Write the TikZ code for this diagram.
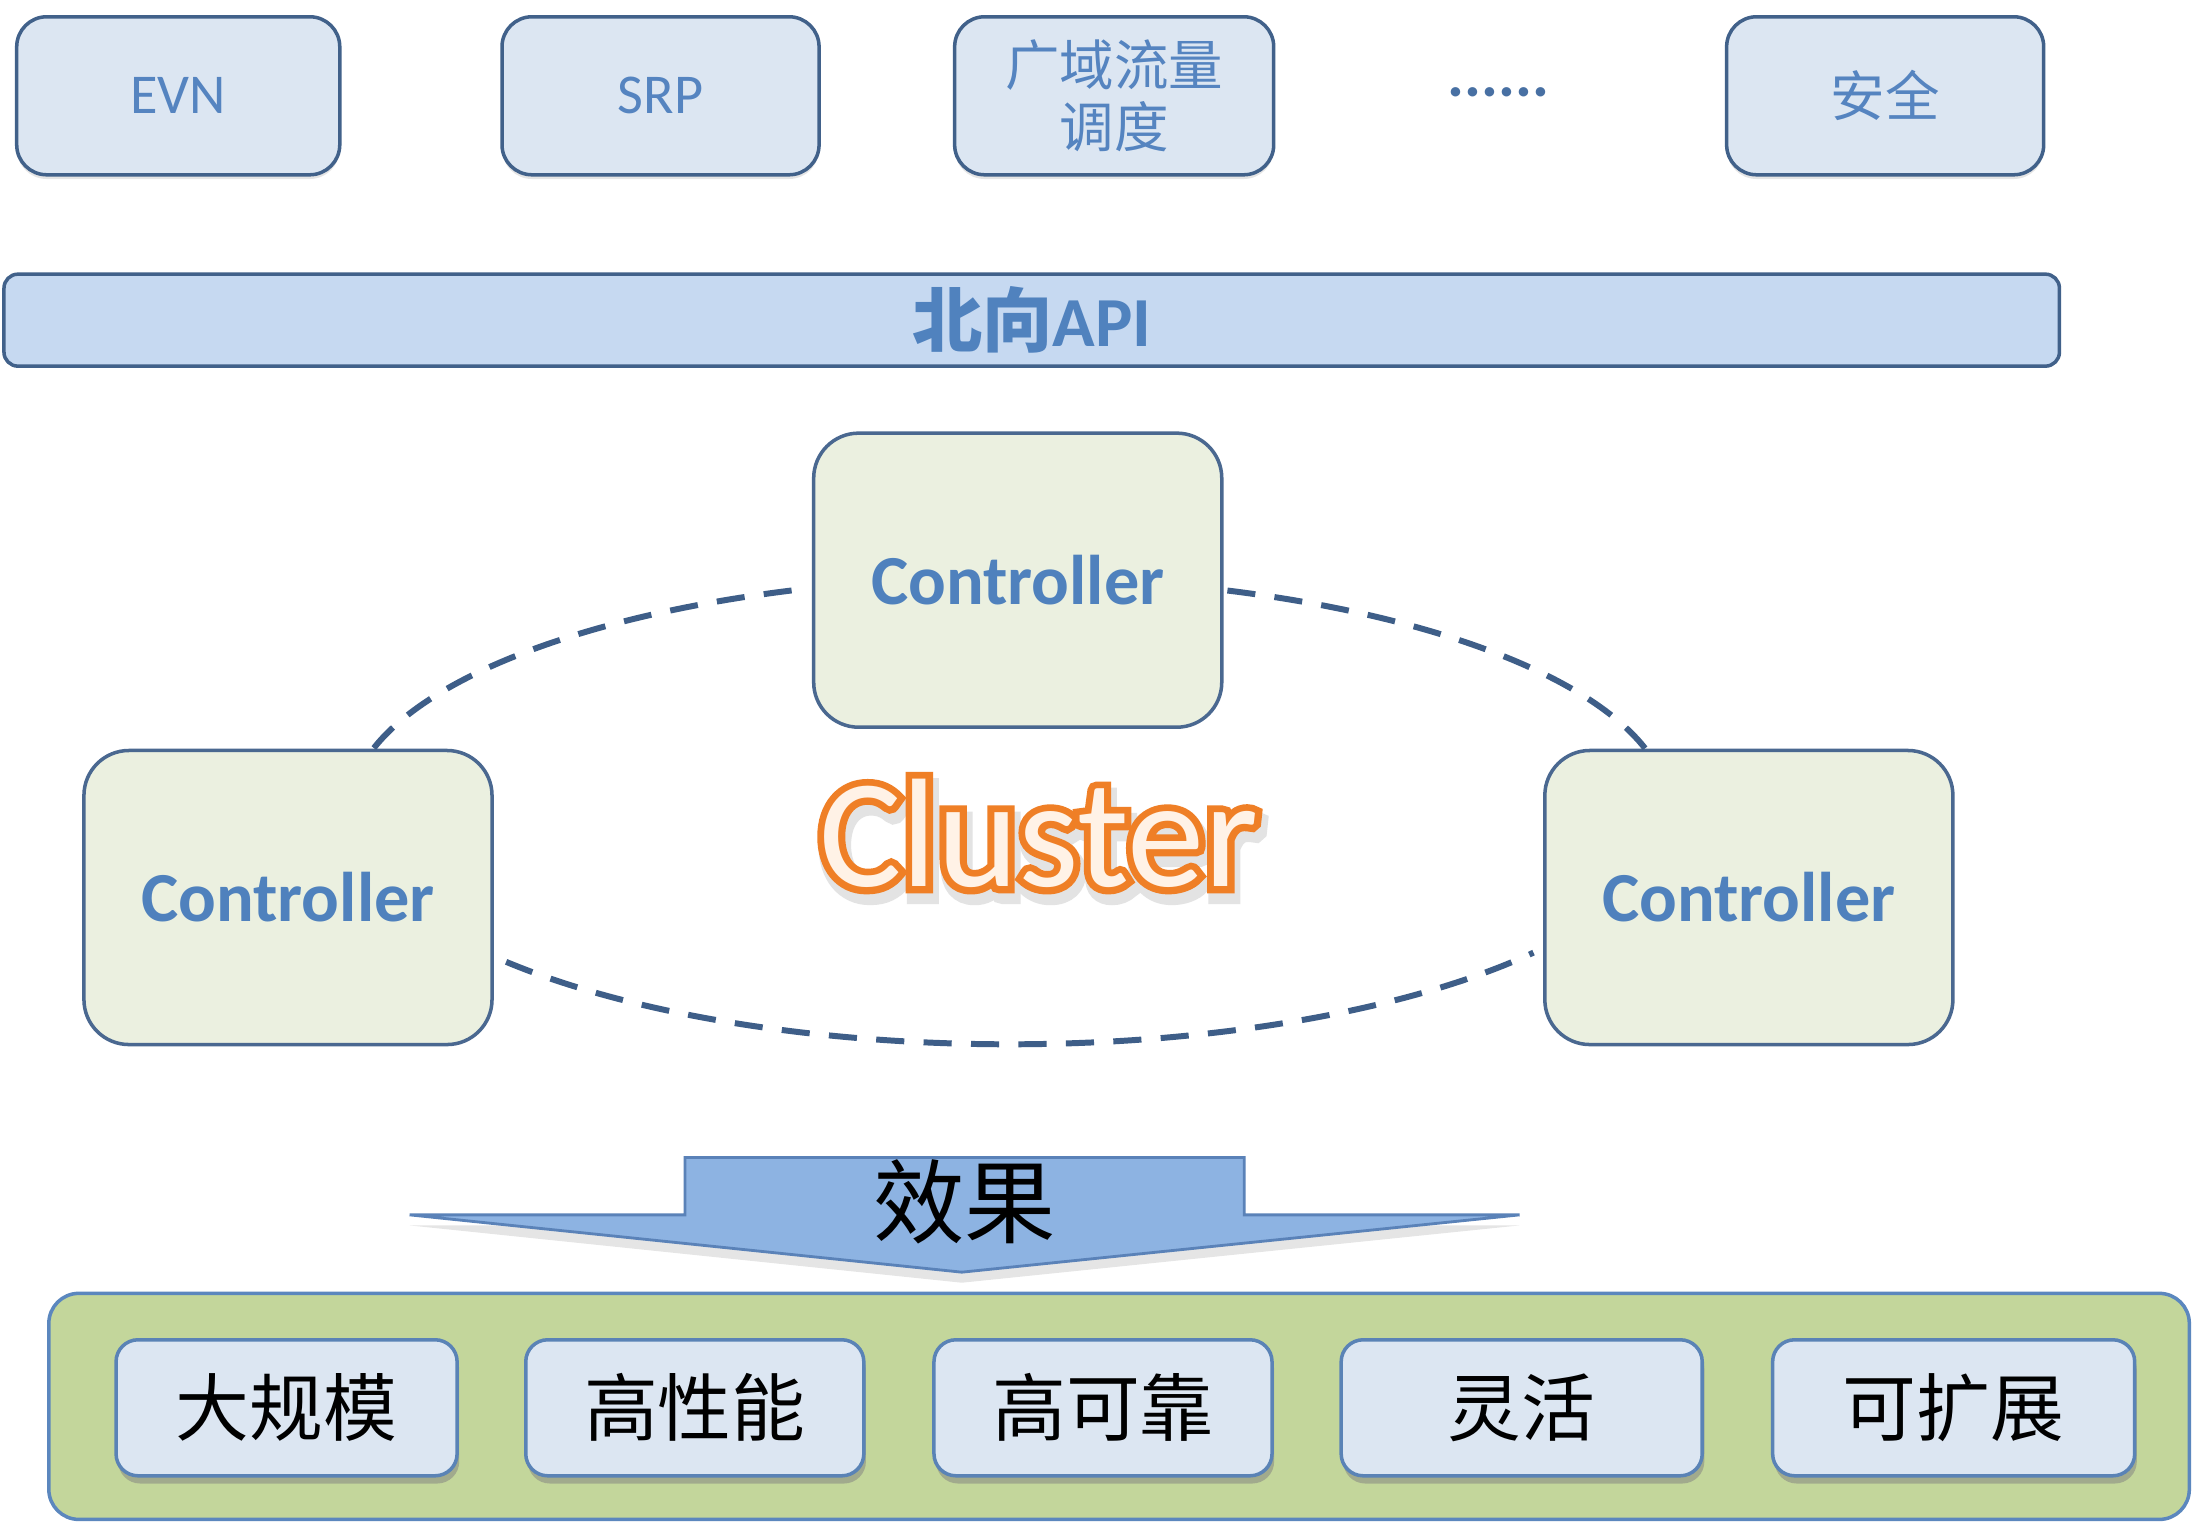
\documentclass[tikz,border=0pt]{standalone}
\usepackage{fontspec}
\setmainfont{Carlito}
\newfontfamily\cjk{Noto Sans CJK SC}
\newfontfamily\ringfont{Carlito}[FakeBold=9]
\newfontfamily\halofont{Carlito}[FakeBold=12]
\usetikzlibrary{shadows}

\definecolor{appfill}{HTML}{DCE6F2}
\definecolor{appline}{HTML}{41618A}
\definecolor{apptext}{HTML}{5584C0}
\definecolor{apifill}{HTML}{C6D9F1}
\definecolor{apitext}{HTML}{5082BE}
\definecolor{ctrlfill}{HTML}{EBF0E0}
\definecolor{ctrlline}{HTML}{4A6890}
\definecolor{ctrltext}{HTML}{4F81BD}
\definecolor{linkcol}{HTML}{3E5E88}
\definecolor{panelfill}{HTML}{C3D69B}
\definecolor{panelline}{HTML}{5B87BE}
\definecolor{featline}{HTML}{5A83B6}
\definecolor{arrowfill}{HTML}{8DB3E2}
\definecolor{arrowline}{HTML}{5A82B8}
\definecolor{clusterring}{HTML}{EF7F26}
\definecolor{clustercore}{HTML}{FFF2E6}

\begin{document}
\begin{tikzpicture}[x=0.01398cm, y=-0.01398cm,
  appbox/.style={draw=appline, line width=1pt, fill=appfill, rounded corners=0.3cm,
    text=apptext, align=center, inner sep=0pt, minimum height=1.58cm,
    font=\fontsize{16}{18}\selectfont,
    drop shadow={shadow xshift=0pt, shadow yshift=-1.2pt, opacity=0.2}},
  appcjk/.style={appbox, font=\fontsize{15.5}{17.5}\selectfont\cjk},
  apibar/.style={draw=appline, line width=1pt, fill=apifill, rounded corners=0.14cm,
    text=apitext, inner sep=0pt, font=\fontsize{20}{24}\selectfont\bfseries},
  ctrlbox/.style={draw=ctrlline, line width=1pt, fill=ctrlfill, rounded corners=0.45cm,
    text=ctrltext, inner sep=0pt, minimum width=4.08cm, minimum height=2.94cm,
    font=\fontsize{20}{24}\selectfont\bfseries},
  link/.style={draw=linkcol, line width=1.7pt, dash pattern=on 8pt off 5.5pt},
  clusterfont/.style={inner sep=0pt, anchor=base},
  panelbox/.style={draw=panelline, line width=1pt, fill=panelfill, rounded corners=0.3cm,
    inner sep=0pt},
  featbox/.style={draw=featline, line width=1pt, fill=appfill, rounded corners=0.22cm,
    text=black, inner sep=0pt, minimum height=1.36cm,
    font=\fontsize{21}{24}\selectfont\cjk,
    drop shadow={shadow xshift=0.6pt, shadow yshift=-2.2pt, opacity=0.5}},
]
\fill[white] (0,0) rectangle (1568,1090);
\useasboundingbox (0,0) rectangle (1568,1090);

% applications
\node[appbox, minimum width=3.23cm] (evn) at (127.5,68.5) {EVN};
\node[appbox, minimum width=3.17cm] (srp) at (472.5,68.5) {SRP};
\node[appcjk, minimum width=3.19cm] (wan) at (797,68.5) {广域流量\\调度};
\node[text=apptext!85!black, font=\fontsize{18}{20}\selectfont\bfseries, anchor=base, inner sep=0pt] (more) at (1072,69) {......};
\node[appcjk, minimum width=3.17cm] (sec) at (1348.5,68.5) {安全};

% northbound interface
\node[apibar, minimum width=20.55cm, minimum height=0.92cm] (api) at (738,229) {{\cjk 北向}API};

% controllers
\node[ctrlbox] (ctop) at (728,415) {Controller};
\node[ctrlbox] (cleft) at (206,642) {Controller};
\node[ctrlbox] (cright) at (1251,642) {Controller};

% cluster links along one ellipse
\coordinate (ring) at (722,580);
\draw[link] ([shift={(195.6:472 and 167)}]ring) arc[start angle=195.6, end angle=251.7, x radius=472, y radius=167];
\draw[link] ([shift={(289.3:472 and 167)}]ring) arc[start angle=289.3, end angle=345.1, x radius=472, y radius=167];
\draw[link] ([shift={(139.7:472 and 167)}]ring) arc[start angle=139.7, end angle=37.4, x radius=472, y radius=167];

% Cluster label: soft shadow, orange outline, pale core
\coordinate (cl) at (743,634);
\node[clusterfont, font=\fontsize{44}{48}\selectfont\halofont, text=black!11]
  (clshadow) at ([xshift=1pt, yshift=-2.4pt]cl) {Cluster};
\node[clusterfont, font=\fontsize{44}{48}\selectfont\ringfont, text=clusterring]
  (clring) at (cl) {Cluster};
\node[clusterfont, font=\fontsize{44}{48}\selectfont, text=clustercore]
  (cluster) at (cl) {Cluster};

% result arrow
\draw[draw=arrowline, line width=0.8pt, fill=arrowfill,
      drop shadow={shadow xshift=0pt, shadow yshift=-3pt, opacity=0.2}]
  (490,828) -- (890,828) -- (890,869) -- (1087,869) -- (688,910) -- (293,869) -- (490,869) -- cycle;
\node[font=\fontsize{26}{30}\selectfont\cjk, text=black, inner sep=0pt] (effect) at (690,860) {效果};

% properties
\node[panelbox, minimum width=21.40cm, minimum height=2.26cm] (panel) at (800.5,1006) {};
\node[featbox, minimum width=3.41cm] (f1) at (205,1007) {大规模};
\node[featbox, minimum width=3.38cm] (f2) at (497,1007) {高性能};
\node[featbox, minimum width=3.38cm] (f3) at (789,1007) {高可靠};
\node[featbox, minimum width=3.61cm] (f4) at (1088.5,1007) {灵活};
\node[featbox, minimum width=3.62cm] (f5) at (1397.5,1007) {可扩展};
\end{tikzpicture}
\end{document}
